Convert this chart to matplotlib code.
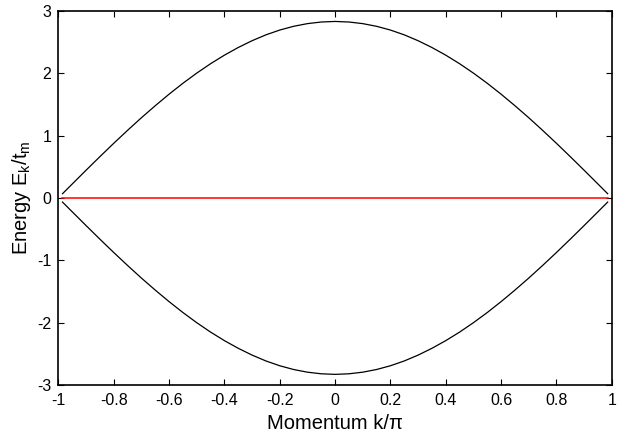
import numpy as np
import matplotlib
matplotlib.use("Agg")
import matplotlib.pyplot as plt

plt.rcParams['font.family'] = ['Liberation Sans', 'DejaVu Sans']
plt.rcParams['axes.unicode_minus'] = False
plt.rcParams['mathtext.fontset'] = 'custom'
plt.rcParams['mathtext.rm'] = 'Liberation Sans'

# momentum k/pi (half of the band, mirrored below)
k_half = [0.0, 0.05, 0.10, 0.15, 0.20, 0.25, 0.30, 0.35, 0.40, 0.45, 0.50,
          0.55, 0.60, 0.65, 0.70, 0.75, 0.80, 0.85, 0.90, 0.95, 0.985]
e_upper_half = [2.830, 2.821, 2.795, 2.752, 2.692, 2.615, 2.521, 2.412, 2.289,
                2.152, 2.001, 1.838, 1.663, 1.478, 1.285, 1.083, 0.875, 0.661,
                0.443, 0.222, 0.067]
e_lower_half = [-2.830, -2.821, -2.795, -2.752, -2.692, -2.615, -2.521, -2.412,
                -2.289, -2.152, -2.001, -1.838, -1.663, -1.478, -1.285, -1.083,
                -0.875, -0.661, -0.443, -0.222, -0.067]
flat_k = [-0.985, 0.985]
flat_e = [0.0, 0.0]

k = [-v for v in k_half[::-1]] + k_half[1:]
e_up = e_upper_half[::-1] + e_upper_half[1:]
e_lo = e_lower_half[::-1] + e_lower_half[1:]

fig = plt.figure(figsize=(6.24, 4.34), dpi=100)
ax = fig.add_axes([0.0935, 0.113, 0.887, 0.862])

ax.plot(k, e_up, color='black', lw=0.9)
ax.plot(k, e_lo, color='black', lw=0.9)
ax.plot(flat_k, flat_e, color='red', lw=1.1)

ax.set_xlim(-1, 1)
ax.set_ylim(-3, 3)
ax.set_xticks(np.arange(-1, 1.01, 0.2))
ax.set_xticklabels(['-1', '-0.8', '-0.6', '-0.4', '-0.2', '0', '0.2', '0.4', '0.6', '0.8', '1'])
ax.set_yticks(range(-3, 4))
ax.tick_params(direction='in', top=True, right=True, length=4, width=0.8, labelsize=11.5)
ax.tick_params(axis='x', pad=6)
ax.tick_params(axis='y', pad=5)
for s in ax.spines.values():
    s.set_linewidth(1.2)

ax.set_xlabel('Momentum k/π', fontsize=14.5, labelpad=4)
ax.set_ylabel('Energy E$_\\mathregular{k}$/t$_\\mathregular{m}$', fontsize=14.5, labelpad=3)

fig.savefig('out.png', dpi=100)
